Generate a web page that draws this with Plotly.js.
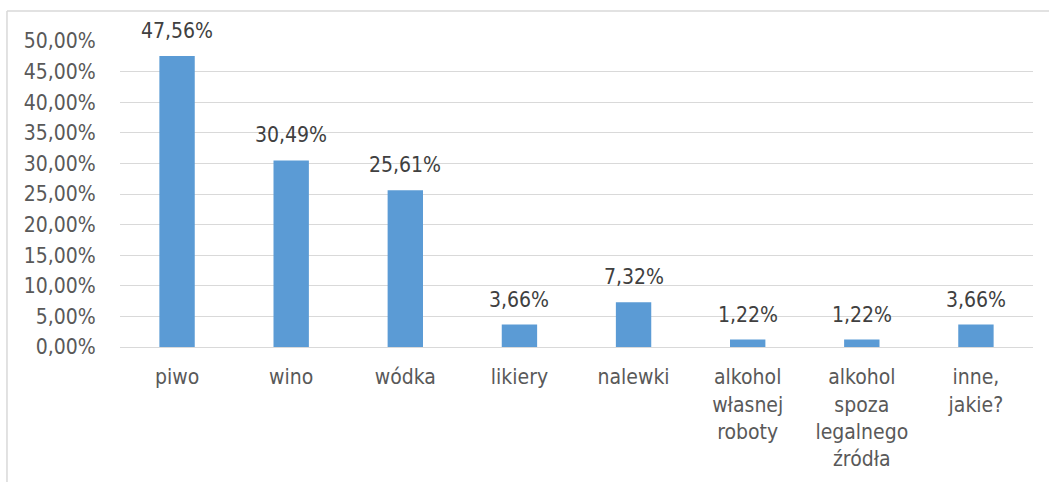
<!DOCTYPE html>
<html><head><meta charset="utf-8">
<script src="https://cdn.plot.ly/plotly-3.0.1.min.js"></script>
<style>html,body{margin:0;padding:0;background:#fff}#c{width:1049px;height:482px}</style>
</head><body><div id="c"></div>
<script>
const categories = ["piwo","wino","wódka","likiery","nalewki","alkohol<br>własnej<br>roboty","alkohol<br>spoza<br>legalnego<br>źródła","inne,<br>jakie?"];
const values = [47.56,30.49,25.61,3.66,7.32,1.22,1.22,3.66];
const labels = ["47,56%","30,49%","25,61%","3,66%","7,32%","1,22%","1,22%","3,66%"];
const tickVals = [0,5,10,15,20,25,30,35,40,45,50];
const tickText = ["0,00%","5,00%","10,00%","15,00%","20,00%","25,00%","30,00%","35,00%","40,00%","45,00%","50,00%"];
const font = "DejaVu Sans Condensed, sans-serif";
const annotations = categories.map((c,i)=>({
  x:c, y:values[i], text:labels[i], xref:'x', yref:'y', showarrow:false,
  yanchor:'bottom', xanchor:'center', yshift:11,
  font:{family:font,size:21,color:'#404040'}
}));
Plotly.newPlot('c',[{
  type:'bar', x:categories, y:values,
  marker:{color:'#5B9BD5'}, hoverinfo:'none'
}],{
  width:1049,height:482,
  margin:{l:120,r:16,t:41,b:135},
  paper_bgcolor:'#fff',plot_bgcolor:'#fff',
  bargap:0.69, showlegend:false,
  xaxis:{tickfont:{family:font,size:21,color:'#595959'},showline:true,linecolor:'#d9d9d9',linewidth:1,
    ticks:'outside',ticklen:11,tickcolor:'rgba(0,0,0,0)',fixedrange:true,automargin:false},
  yaxis:{range:[0,50],tickvals:tickVals,ticktext:tickText,tickfont:{family:font,size:21,color:'#595959'},
    gridcolor:'#d9d9d9',gridwidth:1,zeroline:false,showline:false,ticks:'outside',ticklen:19,tickcolor:'rgba(0,0,0,0)',
    fixedrange:true,automargin:false},
  font:{family:font},
  annotations:annotations,
  shapes:[
    {type:'line',xref:'paper',yref:'paper',x0:-0.1238,x1:1.02,y0:1.098,y1:1.098,line:{color:'#d9d9d9',width:1.5}},
    {type:'line',xref:'paper',yref:'paper',x0:-0.1238,x1:-0.1238,y0:1.098,y1:-0.45,line:{color:'#d9d9d9',width:1.5}}
  ]
},{staticPlot:true});
</script></body></html>
